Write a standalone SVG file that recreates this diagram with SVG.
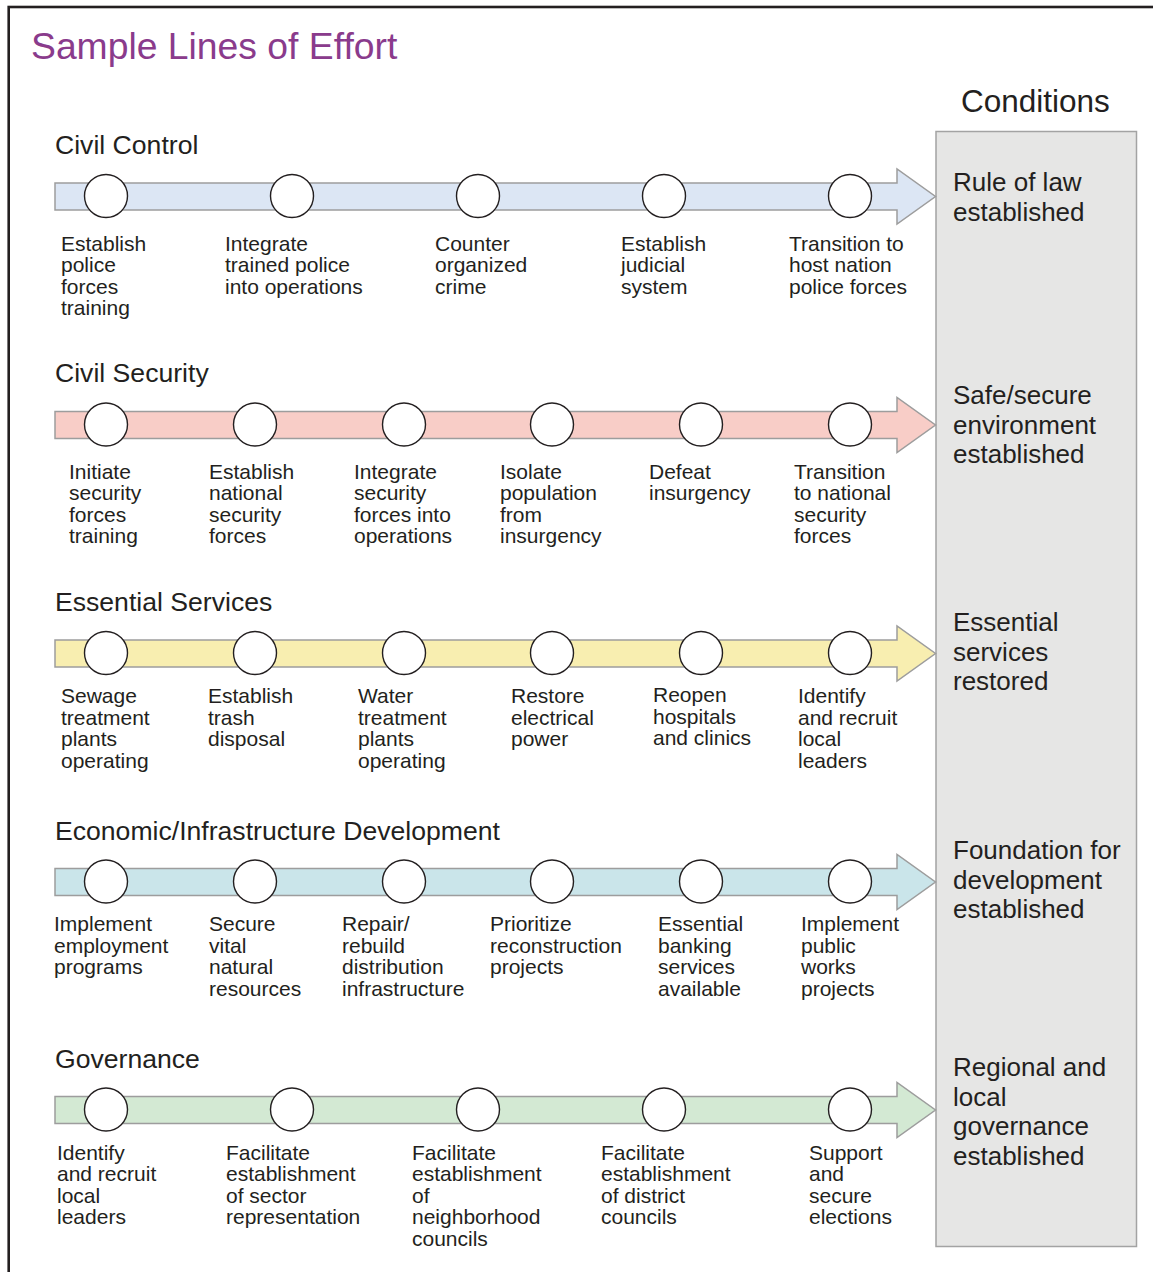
<svg xmlns="http://www.w3.org/2000/svg" width="1153" height="1272" viewBox="0 0 1153 1272">
<style>
text{font-family:"Liberation Sans",Arial,sans-serif;fill:#231f20}
.title{font-size:37.3px;fill:#8a3b8c}
.hdr{font-size:31.5px}
.row{font-size:26.6px}
.cond{font-size:26px}
.lbl{font-size:21px}
.arrow{stroke:#9d9d9d;stroke-width:1.5}
.ms{fill:#fff;stroke:#231f20;stroke-width:1.4}
.box{fill:#e6e6e5;stroke:#a3a3a3;stroke-width:1.5}
</style>
<defs>
<path id="arr" class="arrow" d="M55,-13.5 H897 V-27.5 L935.5,0 L897,27.5 V13.5 H55 Z"/>
</defs>
<rect width="1153" height="1272" fill="#fff"/>
<rect x="8.7" y="7" width="1200" height="1300" fill="none" stroke="#231f20" stroke-width="2.6"/>
<text class="title" x="31" y="59">Sample Lines of Effort</text>
<text class="hdr" x="961" y="112">Conditions</text>

<g id="conditions">
<rect class="box" x="936" y="131.5" width="200.5" height="1115"/>
<text class="cond" x="953"><tspan x="953" y="191">Rule of law</tspan><tspan x="953" y="220.5">established</tspan></text>
<text class="cond" x="953"><tspan x="953" y="404">Safe/secure</tspan><tspan x="953" y="433.5">environment</tspan><tspan x="953" y="463">established</tspan></text>
<text class="cond" x="953"><tspan x="953" y="631">Essential</tspan><tspan x="953" y="660.5">services</tspan><tspan x="953" y="690">restored</tspan></text>
<text class="cond" x="953"><tspan x="953" y="859">Foundation for</tspan><tspan x="953" y="888.5">development</tspan><tspan x="953" y="918">established</tspan></text>
<text class="cond" x="953"><tspan x="953" y="1076">Regional and</tspan><tspan x="953" y="1105.5">local</tspan><tspan x="953" y="1135">governance</tspan><tspan x="953" y="1164.5">established</tspan></text>
</g>

<g id="connectors">
<use href="#arr" transform="translate(0,196.5)" fill="#dce6f4"/>
<use href="#arr" transform="translate(0,425)" fill="#f8cdc7"/>
<use href="#arr" transform="translate(0,653.5)" fill="#f8eeb0"/>
<use href="#arr" transform="translate(0,882)" fill="#cae5ea"/>
<use href="#arr" transform="translate(0,1110)" fill="#d3e9d3"/>
</g>

<g id="civil-control">
<text class="row" x="55" y="154">Civil Control</text>
<circle class="ms" cx="106" cy="196" r="21.5"/>
<circle class="ms" cx="292" cy="196" r="21.5"/>
<circle class="ms" cx="478" cy="196" r="21.5"/>
<circle class="ms" cx="664" cy="196" r="21.5"/>
<circle class="ms" cx="850" cy="196" r="21.5"/>
<text class="lbl"><tspan x="61" y="250.5">Establish</tspan><tspan x="61" y="272">police</tspan><tspan x="61" y="293.5">forces</tspan><tspan x="61" y="315">training</tspan></text>
<text class="lbl"><tspan x="225" y="250.5">Integrate</tspan><tspan x="225" y="272">trained police</tspan><tspan x="225" y="293.5">into operations</tspan></text>
<text class="lbl"><tspan x="435" y="250.5">Counter</tspan><tspan x="435" y="272">organized</tspan><tspan x="435" y="293.5">crime</tspan></text>
<text class="lbl"><tspan x="621" y="250.5">Establish</tspan><tspan x="621" y="272">judicial</tspan><tspan x="621" y="293.5">system</tspan></text>
<text class="lbl"><tspan x="789" y="250.5">Transition to</tspan><tspan x="789" y="272">host nation</tspan><tspan x="789" y="293.5">police forces</tspan></text>
</g>

<g id="civil-security">
<text class="row" x="55" y="382">Civil Security</text>
<circle class="ms" cx="106" cy="424.5" r="21.5"/>
<circle class="ms" cx="255" cy="424.5" r="21.5"/>
<circle class="ms" cx="404" cy="424.5" r="21.5"/>
<circle class="ms" cx="552" cy="424.5" r="21.5"/>
<circle class="ms" cx="701" cy="424.5" r="21.5"/>
<circle class="ms" cx="850" cy="424.5" r="21.5"/>
<text class="lbl"><tspan x="69" y="478.5">Initiate</tspan><tspan x="69" y="500">security</tspan><tspan x="69" y="521.5">forces</tspan><tspan x="69" y="543">training</tspan></text>
<text class="lbl"><tspan x="209" y="478.5">Establish</tspan><tspan x="209" y="500">national</tspan><tspan x="209" y="521.5">security</tspan><tspan x="209" y="543">forces</tspan></text>
<text class="lbl"><tspan x="354" y="478.5">Integrate</tspan><tspan x="354" y="500">security</tspan><tspan x="354" y="521.5">forces into</tspan><tspan x="354" y="543">operations</tspan></text>
<text class="lbl"><tspan x="500" y="478.5">Isolate</tspan><tspan x="500" y="500">population</tspan><tspan x="500" y="521.5">from</tspan><tspan x="500" y="543">insurgency</tspan></text>
<text class="lbl"><tspan x="649" y="478.5">Defeat</tspan><tspan x="649" y="500">insurgency</tspan></text>
<text class="lbl"><tspan x="794" y="478.5">Transition</tspan><tspan x="794" y="500">to national</tspan><tspan x="794" y="521.5">security</tspan><tspan x="794" y="543">forces</tspan></text>
</g>

<g id="essential-services">
<text class="row" x="55" y="611">Essential Services</text>
<circle class="ms" cx="106" cy="653" r="21.5"/>
<circle class="ms" cx="255" cy="653" r="21.5"/>
<circle class="ms" cx="404" cy="653" r="21.5"/>
<circle class="ms" cx="552" cy="653" r="21.5"/>
<circle class="ms" cx="701" cy="653" r="21.5"/>
<circle class="ms" cx="850" cy="653" r="21.5"/>
<text class="lbl"><tspan x="61" y="703">Sewage</tspan><tspan x="61" y="724.5">treatment</tspan><tspan x="61" y="746">plants</tspan><tspan x="61" y="767.5">operating</tspan></text>
<text class="lbl"><tspan x="208" y="703">Establish</tspan><tspan x="208" y="724.5">trash</tspan><tspan x="208" y="746">disposal</tspan></text>
<text class="lbl"><tspan x="358" y="703">Water</tspan><tspan x="358" y="724.5">treatment</tspan><tspan x="358" y="746">plants</tspan><tspan x="358" y="767.5">operating</tspan></text>
<text class="lbl"><tspan x="511" y="703">Restore</tspan><tspan x="511" y="724.5">electrical</tspan><tspan x="511" y="746">power</tspan></text>
<text class="lbl"><tspan x="653" y="702">Reopen</tspan><tspan x="653" y="723.5">hospitals</tspan><tspan x="653" y="745">and clinics</tspan></text>
<text class="lbl"><tspan x="798" y="703">Identify</tspan><tspan x="798" y="724.5">and recruit</tspan><tspan x="798" y="746">local</tspan><tspan x="798" y="767.5">leaders</tspan></text>
</g>

<g id="economic-development">
<text class="row" x="55" y="839.5">Economic/Infrastructure Development</text>
<circle class="ms" cx="106" cy="881.5" r="21.5"/>
<circle class="ms" cx="255" cy="881.5" r="21.5"/>
<circle class="ms" cx="404" cy="881.5" r="21.5"/>
<circle class="ms" cx="552" cy="881.5" r="21.5"/>
<circle class="ms" cx="701" cy="881.5" r="21.5"/>
<circle class="ms" cx="850" cy="881.5" r="21.5"/>
<text class="lbl"><tspan x="54" y="931">Implement</tspan><tspan x="54" y="952.5">employment</tspan><tspan x="54" y="974">programs</tspan></text>
<text class="lbl"><tspan x="209" y="931">Secure</tspan><tspan x="209" y="952.5">vital</tspan><tspan x="209" y="974">natural</tspan><tspan x="209" y="995.5">resources</tspan></text>
<text class="lbl"><tspan x="342" y="931">Repair/</tspan><tspan x="342" y="952.5">rebuild</tspan><tspan x="342" y="974">distribution</tspan><tspan x="342" y="995.5">infrastructure</tspan></text>
<text class="lbl"><tspan x="490" y="931">Prioritize</tspan><tspan x="490" y="952.5">reconstruction</tspan><tspan x="490" y="974">projects</tspan></text>
<text class="lbl"><tspan x="658" y="931">Essential</tspan><tspan x="658" y="952.5">banking</tspan><tspan x="658" y="974">services</tspan><tspan x="658" y="995.5">available</tspan></text>
<text class="lbl"><tspan x="801" y="931">Implement</tspan><tspan x="801" y="952.5">public</tspan><tspan x="801" y="974">works</tspan><tspan x="801" y="995.5">projects</tspan></text>
</g>

<g id="governance">
<text class="row" x="55" y="1067.5">Governance</text>
<circle class="ms" cx="106" cy="1109.5" r="21.5"/>
<circle class="ms" cx="292" cy="1109.5" r="21.5"/>
<circle class="ms" cx="478" cy="1109.5" r="21.5"/>
<circle class="ms" cx="664" cy="1109.5" r="21.5"/>
<circle class="ms" cx="850" cy="1109.5" r="21.5"/>
<text class="lbl"><tspan x="57" y="1159.5">Identify</tspan><tspan x="57" y="1181">and recruit</tspan><tspan x="57" y="1202.5">local</tspan><tspan x="57" y="1224">leaders</tspan></text>
<text class="lbl"><tspan x="226" y="1159.5">Facilitate</tspan><tspan x="226" y="1181">establishment</tspan><tspan x="226" y="1202.5">of sector</tspan><tspan x="226" y="1224">representation</tspan></text>
<text class="lbl"><tspan x="412" y="1159.5">Facilitate</tspan><tspan x="412" y="1181">establishment</tspan><tspan x="412" y="1202.5">of</tspan><tspan x="412" y="1224">neighborhood</tspan><tspan x="412" y="1245.5">councils</tspan></text>
<text class="lbl"><tspan x="601" y="1159.5">Facilitate</tspan><tspan x="601" y="1181">establishment</tspan><tspan x="601" y="1202.5">of district</tspan><tspan x="601" y="1224">councils</tspan></text>
<text class="lbl"><tspan x="809" y="1159.5">Support</tspan><tspan x="809" y="1181">and</tspan><tspan x="809" y="1202.5">secure</tspan><tspan x="809" y="1224">elections</tspan></text>
</g>
</svg>
